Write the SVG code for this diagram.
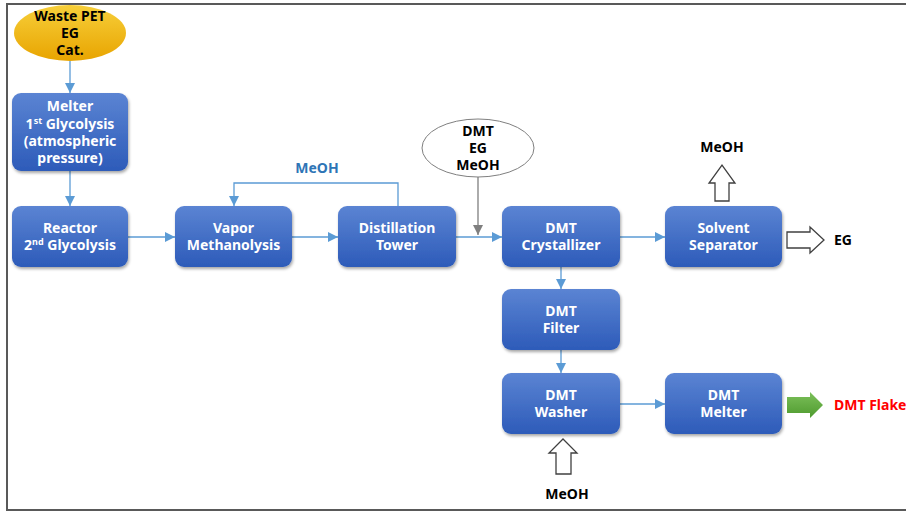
<svg xmlns="http://www.w3.org/2000/svg" width="906" height="512" viewBox="0 0 906 512">
<defs>
<linearGradient id="boxg" x1="0" y1="0" x2="0" y2="1">
<stop offset="0" stop-color="#5b84d3"/>
<stop offset="1" stop-color="#2d5bb9"/>
</linearGradient>
<linearGradient id="goldg" x1="0" y1="0" x2="0" y2="1">
<stop offset="0" stop-color="#f7cf3a"/>
<stop offset="1" stop-color="#e8a400"/>
</linearGradient>
<linearGradient id="greeng" x1="0" y1="0" x2="0" y2="1">
<stop offset="0" stop-color="#7cc05a"/>
<stop offset="1" stop-color="#4e9a2e"/>
</linearGradient>
<filter id="sh" x="-10%" y="-10%" width="125%" height="130%">
<feDropShadow dx="1" dy="2" stdDeviation="1.5" flood-color="#000" flood-opacity="0.35"/>
</filter>
<marker id="ab" viewBox="0 0 10 10" refX="10" refY="5" markerWidth="10" markerHeight="10" markerUnits="userSpaceOnUse" orient="auto">
<path d="M0,0 L10,5 L0,10 z" fill="#5b9bd5"/>
</marker>
<marker id="ag" viewBox="0 0 10 10" refX="10" refY="5" markerWidth="10" markerHeight="10" markerUnits="userSpaceOnUse" orient="auto">
<path d="M0,0 L10,5 L0,10 z" fill="#7f7f7f"/>
</marker>
</defs>
<style>
.box{fill:url(#boxg);filter:url(#sh);}
.bt{font-family:"Noto Sans","Open Sans",sans-serif;font-weight:bold;font-size:14px;fill:#ffffff;text-anchor:middle;}
.kt{font-family:"Noto Sans","Open Sans",sans-serif;font-weight:bold;font-size:14px;fill:#000000;text-anchor:middle;}
.con{fill:none;stroke:#5b9bd5;stroke-width:1.3;}
.hol{fill:#ffffff;stroke:#404040;stroke-width:1.3;}
.sup{font-size:9px;}
</style>
<rect x="7" y="4" width="905" height="506" fill="#ffffff" stroke="#595959" stroke-width="2"/>

<g id="connectors">
<path class="con" d="M70,61 V93" marker-end="url(#ab)"/>
<path class="con" d="M70,171 V206" marker-end="url(#ab)"/>
<path class="con" d="M128,237 H175" marker-end="url(#ab)"/>
<path class="con" d="M292,237 H338" marker-end="url(#ab)"/>
<path class="con" d="M456,237 H502" marker-end="url(#ab)"/>
<path class="con" d="M620,237 H665" marker-end="url(#ab)"/>
<path class="con" d="M561,267 V289" marker-end="url(#ab)"/>
<path class="con" d="M561,350 V373" marker-end="url(#ab)"/>
<path class="con" d="M620,404 H665" marker-end="url(#ab)"/>
<path class="con" d="M398,206 V183 H234 V206" marker-end="url(#ab)"/>
<path d="M478,177 V235" fill="none" stroke="#7f7f7f" stroke-width="1.3" marker-end="url(#ag)"/>
</g>

<g id="feed">
<ellipse cx="70" cy="33" rx="56" ry="28" fill="url(#goldg)"/>
<text class="kt" x="70" y="21">Waste PET</text>
<text class="kt" x="70" y="38">EG</text>
<text class="kt" x="70" y="55">Cat.</text>
</g>

<g id="melter">
<rect class="box" x="12" y="93" width="116" height="78" rx="9"/>
<text class="bt" x="70" y="111">Melter</text>
<text class="bt" x="70" y="129">1<tspan class="sup" dy="-5">st</tspan><tspan dy="5"> Glycolysis</tspan></text>
<text class="bt" x="70" y="146">(atmospheric</text>
<text class="bt" x="70" y="163">pressure)</text>
</g>

<g id="reactor">
<rect class="box" x="12" y="206" width="116" height="61" rx="9"/>
<text class="bt" x="70" y="233">Reactor</text>
<text class="bt" x="70" y="250">2<tspan class="sup" dy="-5">nd</tspan><tspan dy="5"> Glycolysis</tspan></text>
</g>

<g id="vapor">
<rect class="box" x="175" y="206" width="117" height="61" rx="9"/>
<text class="bt" x="233.5" y="233">Vapor</text>
<text class="bt" x="233.5" y="250">Methanolysis</text>
</g>

<g id="distillation">
<rect class="box" x="338" y="206" width="118" height="61" rx="9"/>
<text class="bt" x="397" y="233">Distillation</text>
<text class="bt" x="397" y="250">Tower</text>
</g>

<g id="meoh-recycle">
<text x="317" y="173" font-family="Noto Sans, Open Sans, sans-serif" font-weight="bold" font-size="14" fill="#2e75b6" text-anchor="middle">MeOH</text>
</g>

<g id="mix">
<ellipse cx="478" cy="148" rx="56" ry="29" fill="#ffffff" stroke="#7f7f7f" stroke-width="1"/>
<text class="kt" x="478" y="136">DMT</text>
<text class="kt" x="478" y="153">EG</text>
<text class="kt" x="478" y="170">MeOH</text>
</g>

<g id="crystallizer">
<rect class="box" x="502" y="206" width="118" height="61" rx="9"/>
<text class="bt" x="561" y="233">DMT</text>
<text class="bt" x="561" y="250">Crystallizer</text>
</g>

<g id="separator">
<rect class="box" x="665" y="206" width="117" height="61" rx="9"/>
<text class="bt" x="723.5" y="233">Solvent</text>
<text class="bt" x="723.5" y="250">Separator</text>
</g>

<g id="meoh-out">
<path class="hol" d="M715,201 V183 H709 L722,165 L735,183 H729 V201 Z"/>
<text class="kt" x="722" y="152">MeOH</text>
</g>

<g id="eg-out">
<path class="hol" d="M787,232 H810 V227 L824,240 L810,253 V248 H787 Z"/>
<text class="kt" x="843" y="245">EG</text>
</g>

<g id="filter">
<rect class="box" x="502" y="289" width="118" height="61" rx="9"/>
<text class="bt" x="561" y="316">DMT</text>
<text class="bt" x="561" y="333">Filter</text>
</g>

<g id="washer">
<rect class="box" x="502" y="373" width="118" height="61" rx="9"/>
<text class="bt" x="561" y="400">DMT</text>
<text class="bt" x="561" y="417">Washer</text>
</g>

<g id="meoh-in">
<path class="hol" d="M556,474 V453 H549 L563,439 L577,453 H571 V474 Z"/>
<text class="kt" x="567" y="499">MeOH</text>
</g>

<g id="dmt-melter">
<rect class="box" x="665" y="373" width="117" height="61" rx="9"/>
<text class="bt" x="723.5" y="400">DMT</text>
<text class="bt" x="723.5" y="417">Melter</text>
</g>

<g id="flake">
<path d="M787,397 H810 V392 L823,405 L810,418 V413 H787 Z" fill="url(#greeng)"/>
<text x="834" y="410" font-family="Noto Sans, Open Sans, sans-serif" font-weight="bold" font-size="14" fill="#ff0000">DMT Flake</text>
</g>
</svg>
